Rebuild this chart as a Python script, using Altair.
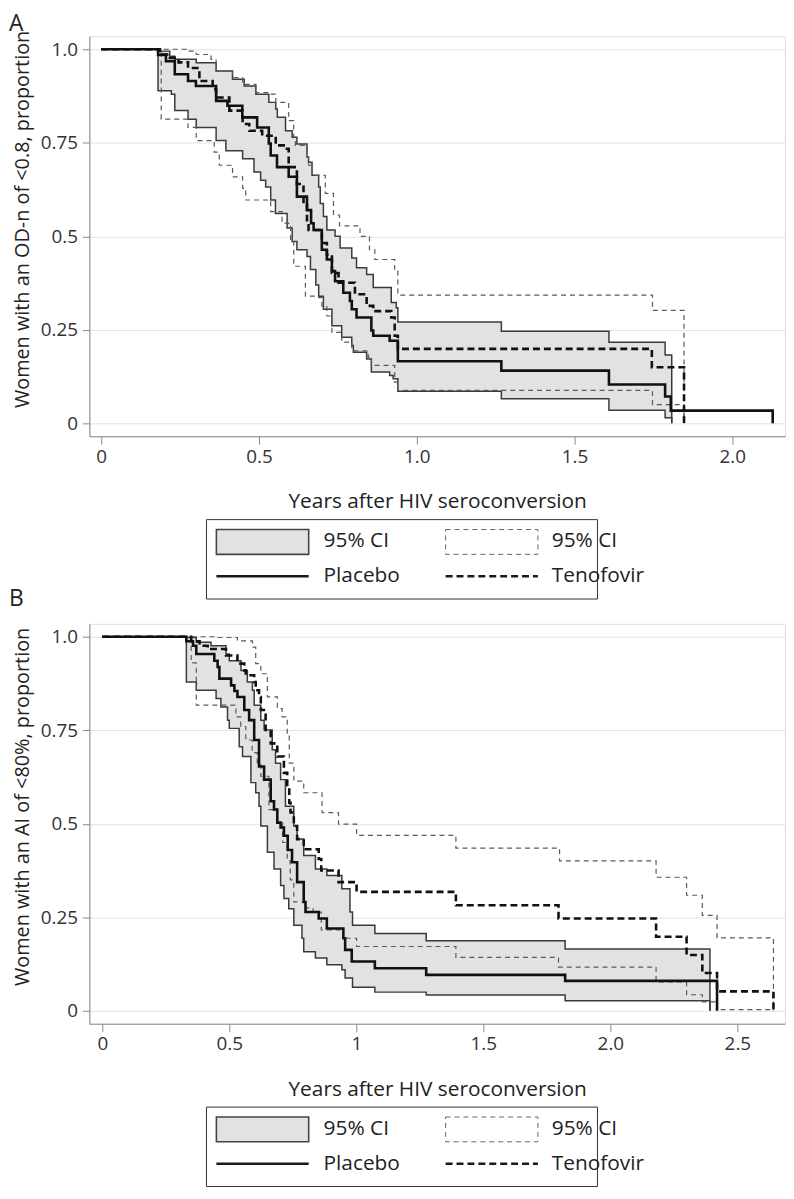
import altair as alt
import pandas as pd

# ---------------- Panel A (OD-n < 0.8) ----------------
A_PLA_T = [0, 0.18, 0.205, 0.233, 0.275, 0.30, 0.364, 0.40, 0.447, 0.494, 0.531, 0.537, 0.557, 0.594,
           0.62, 0.652, 0.665, 0.673, 0.699, 0.715, 0.731, 0.741, 0.767, 0.788, 0.794, 0.809, 0.856,
           0.862, 0.914, 0.94, 1.268, 1.609, 1.787, 1.805, 2.128]
A_PLA_S = [1.0, 0.985, 0.968, 0.933, 0.915, 0.902, 0.862, 0.849, 0.818, 0.791, 0.748, 0.716, 0.685, 0.659,
           0.606, 0.570, 0.535, 0.517, 0.464, 0.438, 0.407, 0.38, 0.349, 0.327, 0.305, 0.283, 0.248,
           0.234, 0.221, 0.166, 0.141, 0.104, 0.072, 0.034, 0.0]

A_PLA_UP_T = [0, 0.18, 0.217, 0.233, 0.301, 0.364, 0.416, 0.453, 0.49, 0.531, 0.553, 0.558, 0.584, 0.605,
              0.62, 0.652, 0.657, 0.668, 0.689, 0.694, 0.704, 0.715, 0.741, 0.757, 0.794, 0.809, 0.841,
              0.862, 0.919, 0.935, 0.94, 1.268, 1.609, 1.787, 1.808]
A_PLA_UP_S = [1.0, 0.995, 0.981, 0.973, 0.964, 0.942, 0.92, 0.902, 0.88, 0.858, 0.84, 0.818, 0.782, 0.765,
              0.747, 0.712, 0.698, 0.663, 0.632, 0.588, 0.553, 0.517, 0.50, 0.469, 0.442, 0.416, 0.398,
              0.363, 0.323, 0.309, 0.271, 0.246, 0.217, 0.183, 0.0]

A_PLA_LO_T = [0, 0.18, 0.222, 0.233, 0.275, 0.301, 0.364, 0.395, 0.448, 0.484, 0.505, 0.521, 0.537, 0.552,
              0.589, 0.605, 0.62, 0.652, 0.663, 0.68, 0.689, 0.704, 0.731, 0.762, 0.794, 0.799, 0.841,
              0.856, 0.914, 0.925, 0.94, 1.268, 1.609, 1.787, 1.808]
A_PLA_LO_S = [1.0, 0.889, 0.88, 0.836, 0.813, 0.791, 0.756, 0.729, 0.707, 0.672, 0.65, 0.632, 0.597, 0.561,
              0.522, 0.486, 0.464, 0.446, 0.411, 0.37, 0.34, 0.305, 0.261, 0.23, 0.208, 0.19, 0.172,
              0.137, 0.128, 0.119, 0.086, 0.066, 0.035, 0.015, 0.0]

A_TDF_T = [0, 0.186, 0.217, 0.245, 0.275, 0.311, 0.353, 0.364, 0.406, 0.448, 0.469, 0.51, 0.553, 0.584,
           0.594, 0.62, 0.641, 0.652, 0.657, 0.699, 0.715, 0.731, 0.752, 0.804, 0.841, 0.862, 0.919,
           0.93, 0.94, 1.745, 1.847]
A_TDF_S = [1.0, 0.986, 0.977, 0.965, 0.95, 0.915, 0.893, 0.871, 0.836, 0.80, 0.782, 0.769, 0.743, 0.734,
           0.685, 0.64, 0.588, 0.535, 0.517, 0.482, 0.451, 0.402, 0.376, 0.345, 0.314, 0.30, 0.283,
           0.234, 0.199, 0.15, 0.0]

A_TDF_UP_T = [0, 0.27, 0.301, 0.348, 0.364, 0.416, 0.448, 0.49, 0.537, 0.553, 0.594, 0.61, 0.615, 0.652,
              0.657, 0.668, 0.71, 0.736, 0.755, 0.82, 0.85, 0.867, 0.93, 0.94, 1.747, 1.847]
A_TDF_UP_S = [1.0, 0.995, 0.986, 0.973, 0.942, 0.924, 0.906, 0.884, 0.88, 0.858, 0.809, 0.765, 0.743, 0.712,
              0.69, 0.663, 0.615, 0.557, 0.528, 0.50, 0.464, 0.438, 0.407, 0.343, 0.302, 0.0]

A_TDF_LO_T = [0, 0.19, 0.275, 0.301, 0.358, 0.374, 0.416, 0.448, 0.458, 0.537, 0.573, 0.594, 0.60, 0.61,
              0.647, 0.689, 0.699, 0.715, 0.731, 0.762, 0.794, 0.846, 0.856, 0.93, 0.94, 1.747, 1.847]
A_TDF_LO_S = [1.0, 0.813, 0.791, 0.756, 0.725, 0.69, 0.659, 0.628, 0.597, 0.566, 0.535, 0.526, 0.486, 0.42,
              0.34, 0.336, 0.314, 0.287, 0.243, 0.217, 0.194, 0.177, 0.155, 0.11, 0.088, 0.05, 0.0]

# ---------------- Panel B (AI < 80%) ----------------
B_PLA_T = [0, 0.331, 0.357, 0.37, 0.441, 0.454, 0.461, 0.507, 0.52, 0.532, 0.559, 0.578, 0.598, 0.617,
           0.637, 0.663, 0.676, 0.689, 0.702, 0.715, 0.73, 0.747, 0.767, 0.793, 0.80, 0.852, 0.884,
           0.949, 0.956, 0.982, 1.073, 1.275, 1.822, 2.42]
B_PLA_S = [1.0, 0.988, 0.976, 0.954, 0.936, 0.919, 0.888, 0.87, 0.855, 0.839, 0.804, 0.777, 0.724, 0.653,
           0.618, 0.56, 0.538, 0.503, 0.49, 0.468, 0.43, 0.397, 0.344, 0.291, 0.264, 0.247, 0.22,
           0.194, 0.163, 0.132, 0.114, 0.096, 0.08, 0.0]

B_PLA_UP_T = [0, 0.331, 0.37, 0.428, 0.487, 0.50, 0.546, 0.571, 0.591, 0.598, 0.624, 0.637, 0.669, 0.682,
              0.702, 0.721, 0.754, 0.767, 0.793, 0.839, 0.884, 0.943, 0.975, 0.985, 1.073, 1.275, 1.822,
              2.392]
B_PLA_UP_S = [1.0, 0.998, 0.985, 0.976, 0.954, 0.936, 0.91, 0.879, 0.857, 0.817, 0.777, 0.751, 0.698, 0.662,
              0.618, 0.547, 0.494, 0.459, 0.415, 0.379, 0.362, 0.326, 0.264, 0.229, 0.207, 0.187, 0.165,
              0.0]

B_PLA_LO_T = [0, 0.331, 0.37, 0.448, 0.467, 0.493, 0.50, 0.539, 0.552, 0.585, 0.604, 0.617, 0.624, 0.65,
              0.676, 0.702, 0.715, 0.734, 0.754, 0.786, 0.793, 0.839, 0.884, 0.943, 0.956, 0.985, 1.073,
              1.275, 1.822, 2.392]
B_PLA_LO_S = [1.0, 0.879, 0.857, 0.835, 0.812, 0.777, 0.755, 0.706, 0.68, 0.61, 0.583, 0.547, 0.494, 0.424,
              0.379, 0.335, 0.30, 0.273, 0.229, 0.194, 0.158, 0.141, 0.123, 0.11, 0.088, 0.063, 0.05,
              0.042, 0.027, 0.0]

B_TDF_T = [0, 0.35, 0.383, 0.415, 0.487, 0.532, 0.559, 0.565, 0.598, 0.604, 0.617, 0.624, 0.643, 0.663,
           0.689, 0.715, 0.728, 0.736, 0.741, 0.754, 0.767, 0.793, 0.852, 0.862, 0.93, 1.001, 1.392,
           1.796, 2.18, 2.30, 2.362, 2.42, 2.642]
B_TDF_S = [1.0, 0.988, 0.976, 0.967, 0.95, 0.928, 0.91, 0.897, 0.879, 0.857, 0.839, 0.804, 0.751, 0.715,
           0.68, 0.636, 0.60, 0.556, 0.53, 0.494, 0.459, 0.432, 0.406, 0.375, 0.344, 0.318, 0.282,
           0.247, 0.198, 0.149, 0.101, 0.052, 0.0]

B_TDF_UP_T = [0, 0.45, 0.532, 0.591, 0.604, 0.624, 0.65, 0.689, 0.708, 0.728, 0.736, 0.754, 0.793, 0.865,
              0.93, 1.001, 1.392, 1.80, 2.18, 2.30, 2.362, 2.42, 2.642]
B_TDF_UP_S = [1.0, 0.998, 0.989, 0.972, 0.928, 0.901, 0.839, 0.808, 0.786, 0.742, 0.662, 0.614, 0.583, 0.53,
              0.499, 0.469, 0.435, 0.401, 0.357, 0.309, 0.255, 0.195, 0.0]

B_TDF_LO_T = [0, 0.35, 0.37, 0.526, 0.545, 0.565, 0.59, 0.61, 0.624, 0.656, 0.689, 0.71, 0.728, 0.74,
              0.754, 0.80, 0.83, 0.862, 0.949, 1.001, 1.392, 1.796, 2.18, 2.30, 2.362, 2.42, 2.642]
B_TDF_LO_S = [1.0, 0.93, 0.817, 0.786, 0.76, 0.724, 0.69, 0.66, 0.627, 0.538, 0.503, 0.45, 0.401, 0.35,
              0.291, 0.275, 0.264, 0.216, 0.194, 0.172, 0.143, 0.117, 0.077, 0.043, 0.024, 0.003, 0.0]

Y_TICKS = [0, 0.25, 0.5, 0.75, 1.0]
A_X_TICKS = [0, 0.5, 1.0, 1.5, 2.0]
B_X_TICKS = [0, 0.5, 1.0, 1.5, 2.0, 2.5]
A_Y_TITLE = "Women with an OD-n of <0.8, proportion"
B_Y_TITLE = "Women with an AI of <80%, proportion"
X_TITLE = "Years after HIV seroconversion"

FONT = "Open Sans"
W, H = 701, 403


def step_value(ts, ss, x):
    v = ss[0]
    for a, b in zip(ts, ss):
        if a <= x:
            v = b
        else:
            break
    return v


def band_frame(lt, ls, ut, us):
    grid = sorted(set(lt) | set(ut))
    return pd.DataFrame({
        "t": grid,
        "lo": [step_value(lt, ls, g) for g in grid],
        "hi": [step_value(ut, us, g) for g in grid],
    })


def curve_frame(ts, ss):
    return pd.DataFrame({"t": ts, "s": ss})


def panel(xdom, xticks, xlabel_expr, ytitle, curves, band, extra_labels):
    xscale = alt.Scale(domain=xdom, nice=False, zero=False)
    yscale = alt.Scale(domain=[-0.0345, 1.0345], nice=False, zero=False)
    xaxis = alt.Axis(title=X_TITLE, values=xticks, labelExpr=xlabel_expr, grid=False,
                     domainColor="#8a8a8a", tickColor="#8a8a8a", tickSize=8, labelFontSize=19,
                     labelColor="#333333", labelPadding=3, labelFont=FONT, titleFont=FONT,
                     titleFontSize=21, titleFontWeight="normal", titleColor="#222222",
                     titleBaseline="middle", titleY=66)
    yaxis = alt.Axis(title=ytitle, values=Y_TICKS,
                     labelExpr="datum.value == 0 ? '0' : (datum.value == 1 ? '1.0' : toString(datum.value))",
                     grid=True, gridColor="#e3e3e3", gridWidth=1, domainColor="#8a8a8a",
                     tickColor="#8a8a8a", tickSize=7, labelFontSize=19, labelColor="#333333",
                     labelPadding=5, labelFont=FONT, titleFont=FONT, titleFontSize=20,
                     titleFontWeight="normal", titleColor="#222222", titleAngle=270,
                     titleBaseline="middle", titleX=-67, titleY=184)
    X = alt.X("t:Q", scale=xscale, axis=xaxis)

    layers = []
    layers.append(
        alt.Chart(band).mark_area(interpolate="step-after", color="#e2e2e2", opacity=1).encode(
            x=X, y=alt.Y("lo:Q", scale=yscale, axis=yaxis), y2="hi:Q")
    )
    for df, color, width, dash in curves:
        kw = dict(interpolate="step-after", color=color, strokeWidth=width)
        if dash:
            kw["strokeDash"] = dash
        layers.append(
            alt.Chart(df).mark_line(**kw).encode(
                x=X, y=alt.Y("s:Q", scale=yscale, axis=yaxis))
        )

    one = pd.DataFrame({"k": [0]})
    base = alt.Chart(one)
    # legend box
    layers.append(base.mark_rect(fill="white", stroke="#333333", strokeWidth=1).encode(
        x=alt.value(118), x2=alt.value(512), y=alt.value(487), y2=alt.value(567)))
    layers.append(base.mark_rect(fill="#e2e2e2", stroke="#444444", strokeWidth=1.6).encode(
        x=alt.value(128), x2=alt.value(221), y=alt.value(497), y2=alt.value(522)))
    layers.append(base.mark_rect(fill="white", stroke="#666666", strokeWidth=1, strokeDash=[5, 4]).encode(
        x=alt.value(359), x2=alt.value(452), y=alt.value(497), y2=alt.value(522)))
    layers.append(base.mark_rule(color="#1a1a1a", strokeWidth=2.5).encode(
        x=alt.value(128), x2=alt.value(221), y=alt.value(544)))
    layers.append(base.mark_rule(color="#1a1a1a", strokeWidth=2.5, strokeDash=[7, 4]).encode(
        x=alt.value(359), x2=alt.value(452), y=alt.value(544)))
    for txt, px, py in [("95% CI", 236, 509), ("95% CI", 466, 509), ("Placebo", 236, 544), ("Tenofovir", 466, 544)]:
        layers.append(base.mark_text(text=txt, align="left", baseline="middle", font=FONT,
                                     fontSize=21, color="#222222").encode(x=alt.value(px), y=alt.value(py)))
    for txt, px, py in extra_labels:
        layers.append(base.mark_text(text=txt, align="left", baseline="top", font=FONT,
                                     fontSize=23, color="#222222").encode(x=alt.value(px), y=alt.value(py)))
    return alt.layer(*layers).properties(width=W, height=H)


def curve_set(pla, pla_up, pla_lo, tdf, tdf_up, tdf_lo):
    return [
        (curve_frame(*pla_up), "#3a3a3a", 1.5, None),
        (curve_frame(*pla_lo), "#3a3a3a", 1.5, None),
        (curve_frame(*tdf_up), "#5a5a5a", 1.2, [5, 4]),
        (curve_frame(*tdf_lo), "#5a5a5a", 1.2, [5, 4]),
        (curve_frame(*pla), "#111111", 2.6, None),
        (curve_frame(*tdf), "#111111", 2.6, [7, 4]),
    ]


chart_a = panel(
    [-0.0377, 2.167], A_X_TICKS, "datum.value == 0 ? '0' : format(datum.value, '.1f')", A_Y_TITLE,
    curve_set((A_PLA_T, A_PLA_S), (A_PLA_UP_T, A_PLA_UP_S), (A_PLA_LO_T, A_PLA_LO_S),
              (A_TDF_T, A_TDF_S), (A_TDF_UP_T, A_TDF_UP_S), (A_TDF_LO_T, A_TDF_LO_S)),
    band_frame(A_PLA_LO_T, A_PLA_LO_S, A_PLA_UP_T, A_PLA_UP_S),
    [("A", -81, -23), ("B", -81, 556)],
)

chart_b = panel(
    [-0.0508, 2.6875], B_X_TICKS,
    "datum.value == 0 ? '0' : (datum.value == 1 ? '1' : format(datum.value, '.1f'))", B_Y_TITLE,
    curve_set((B_PLA_T, B_PLA_S), (B_PLA_UP_T, B_PLA_UP_S), (B_PLA_LO_T, B_PLA_LO_S),
              (B_TDF_T, B_TDF_S), (B_TDF_UP_T, B_TDF_UP_S), (B_TDF_LO_T, B_TDF_LO_S)),
    band_frame(B_PLA_LO_T, B_PLA_LO_S, B_PLA_UP_T, B_PLA_UP_S),
    [],
)

chart = alt.vconcat(chart_a, chart_b, spacing=11).properties(padding=0).configure_view(
    stroke=None).configure(font=FONT)

chart.save("out.html", embed_options={"renderer": "svg", "actions": False})
